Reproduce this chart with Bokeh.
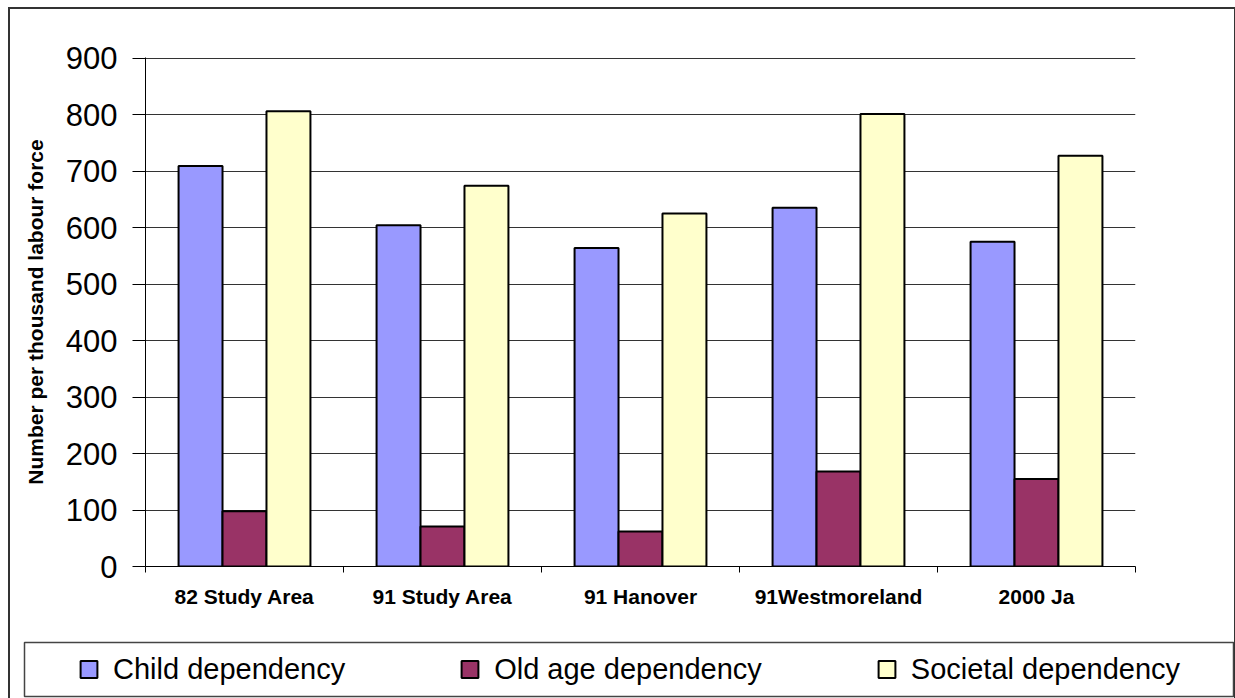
from bokeh.plotting import figure
from bokeh.layouts import column
from bokeh.models import ColumnDataSource, Range1d, FixedTicker
from bokeh.transform import dodge
from bokeh.embed import file_html
from bokeh.resources import INLINE

categories = ["82 Study Area", "91 Study Area", "91 Hanover", "91Westmoreland", "2000 Ja"]
child = [709, 604, 564, 635, 575]
old_age = [98, 71, 62, 168, 155]
societal = [806, 674, 625, 801, 727]
y_ticks = [0, 100, 200, 300, 400, 500, 600, 700, 800, 900]
series_names = ["Child dependency", "Old age dependency", "Societal dependency"]
series_colors = ["#9999FF", "#993366", "#FFFFCC"]

xpos = [i + 0.5 for i in range(len(categories))]
src = ColumnDataSource(dict(x=xpos, child=child, old=old_age, soc=societal))

# outer wrapper offsets (CSS border at left=8, top=7)
OX, OY = 10, 9
FW = 1234 - OX
MAIN_H = 636 - OY
LEG_H = 698 - 636

p = figure(width=FW, height=MAIN_H, output_backend="svg", toolbar_location=None,
           x_range=Range1d(0, len(categories)), y_range=Range1d(0, 901),
           min_border_left=145 - OX, min_border_right=1234 - 1135,
           min_border_top=57 - OY, min_border_bottom=MAIN_H - (566 - OY))
p.frame_align = False
p.outline_line_color = None
p.background_fill_color = "white"
p.border_fill_color = "white"

bw = 0.222
offsets = [-bw, 0.0, bw]
cols = ["child", "old", "soc"]
for col, off, color in zip(cols, offsets, series_colors):
    p.vbar(x=dodge("x", off, range=p.x_range), top=col, bottom=0, width=bw, source=src,
           fill_color=color, line_color="black", line_width=2)

# y axis
ya = p.yaxis[0]
ya.ticker = FixedTicker(ticks=y_ticks)
ya.major_label_text_font = "Liberation Sans"
ya.major_label_text_font_size = "31px"
ya.major_label_text_color = "black"
ya.major_tick_out = 13
ya.major_tick_in = 0
ya.minor_tick_line_color = None
ya.major_label_standoff = 15
ya.axis_line_color = "black"
ya.major_tick_line_color = "black"
ya.axis_label = "Number per thousand labour force"
ya.axis_label_text_font = "Liberation Sans"
ya.axis_label_text_font_style = "bold"
ya.axis_label_text_font_size = "21px"
ya.axis_label_text_color = "black"
ya.axis_label_standoff = 16

# x axis
xa = p.xaxis[0]
xa.ticker = FixedTicker(ticks=xpos, minor_ticks=list(range(len(categories) + 1)))
xa.major_label_overrides = {x: c for x, c in zip(xpos, categories)}
xa.major_tick_line_color = None
xa.major_tick_out = 0
xa.major_tick_in = 0
xa.minor_tick_out = 6
xa.minor_tick_in = 0
xa.minor_tick_line_color = "black"
xa.axis_line_color = "black"
xa.major_label_text_font = "Liberation Sans"
xa.major_label_text_font_style = "bold"
xa.major_label_text_font_size = "21px"
xa.major_label_text_color = "black"
xa.major_label_standoff = 12

p.xgrid.grid_line_color = None
p.ygrid.ticker = FixedTicker(ticks=y_ticks)
p.ygrid.grid_line_color = "#333333"
p.ygrid.grid_line_width = 1

# legend strip: its frame is the legend box; its renderers are hidden, only the legend shows
lf = figure(width=FW, height=LEG_H, output_backend="svg", toolbar_location=None,
            x_range=Range1d(0, len(categories)), y_range=Range1d(-2, -1),
            x_axis_type=None, y_axis_type=None,
            min_border_left=24 - OX, min_border_right=1,
            min_border_top=642 - 636, min_border_bottom=698 - 696)
lf.frame_align = False
lf.grid.grid_line_color = None
lf.outline_line_color = "#444444"
lf.outline_line_width = 1.5
lf.background_fill_color = "white"
lf.border_fill_color = "white"
for col, off, color, lab in zip(cols, offsets, series_colors, series_names):
    r = lf.vbar(x=dodge("x", off, range=lf.x_range), top=col, bottom=0, width=bw, source=src,
                fill_color=color, line_color="black", line_width=2, legend_label=lab)
    r.visible = False

lg = lf.legend[0]
lg.orientation = "horizontal"
lg.location = "left"
lg.margin = 54
lg.padding = 0
lg.label_text_font = "Liberation Sans"
lg.label_text_font_size = "29px"
lg.label_text_color = "black"
lg.label_standoff = 14
lg.glyph_width = 21
lg.glyph_height = 21
lg.spacing = 114
lg.border_line_color = None
lg.background_fill_alpha = 0
lg.inactive_fill_alpha = 0

layout = column(p, lf, spacing=0, margin=(OY - 2, 0, 0, OX - 2),
                styles={"border-top": "2px solid #333333",
                        "border-left": "2px solid #333333",
                        "border-right": "2px solid #333333"})

open("out.html", "w").write(file_html(layout, INLINE))
